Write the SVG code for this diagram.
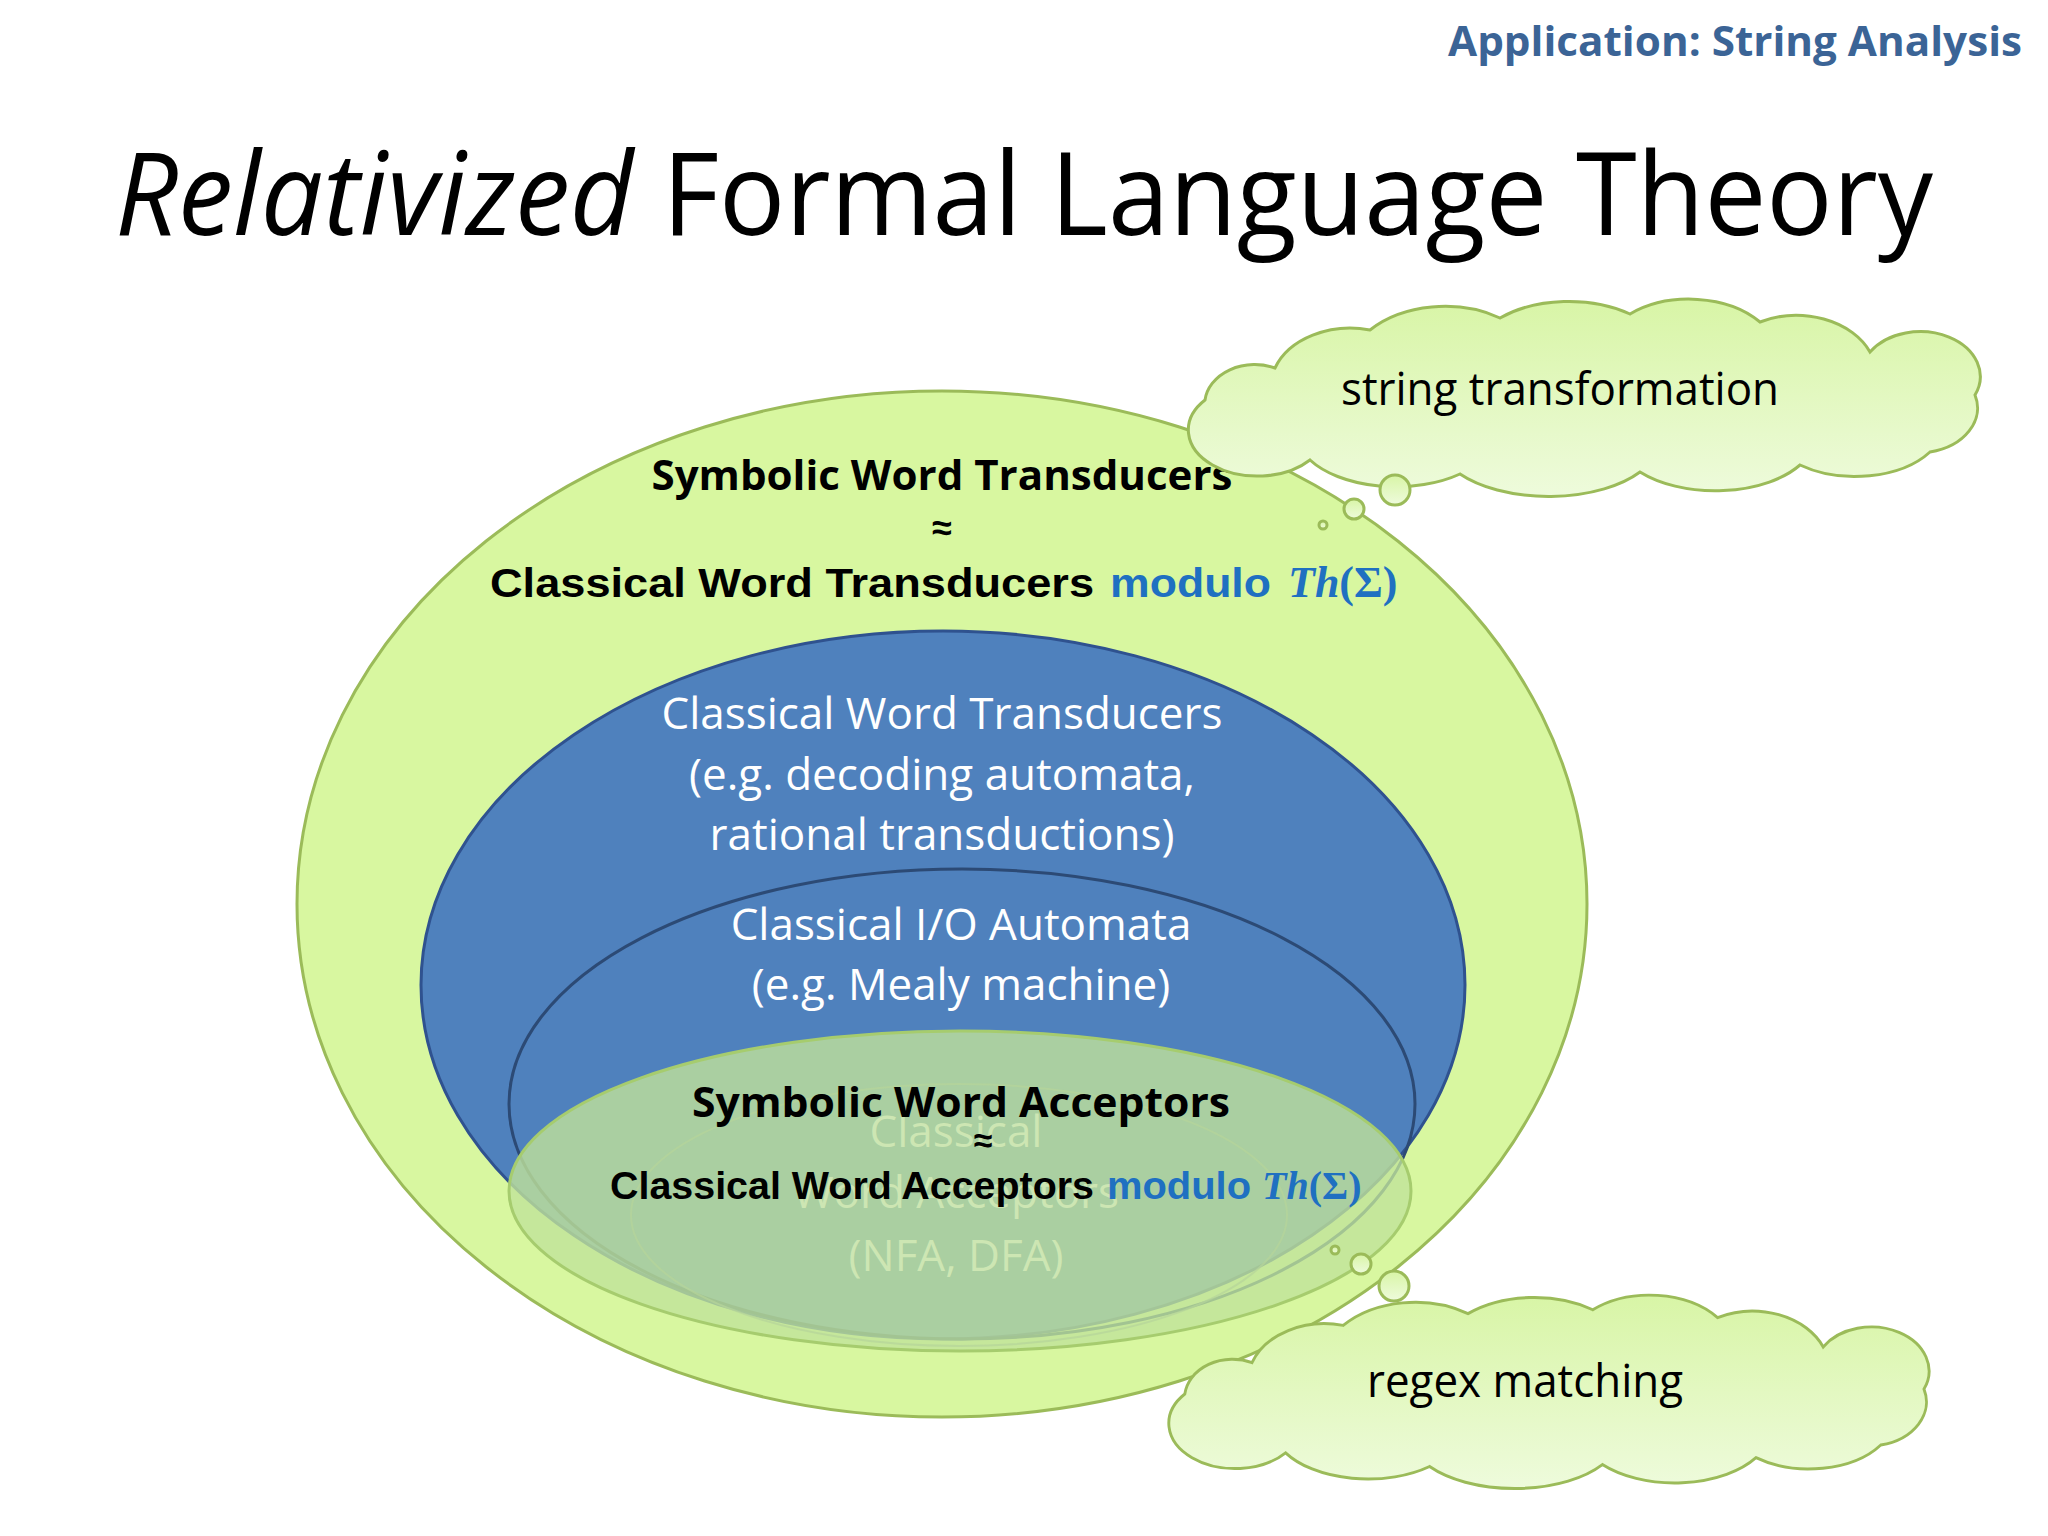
<svg xmlns="http://www.w3.org/2000/svg" xmlns:xlink="http://www.w3.org/1999/xlink" width="2048" height="1536" viewBox="0 0 2048 1536">
<style>
.cal{font-family:"Open Sans","Noto Sans",sans-serif}
.ar{font-family:"Liberation Sans",Arial,sans-serif;font-weight:bold}
.th{font-family:"Liberation Serif","Times New Roman",serif;font-style:italic;font-weight:bold;fill:#1f70c1}
.blue{fill:#1f70c1}
.w{fill:#ffffff;font-size:44px}
.faint{fill:#d6ecb8;font-size:44px;opacity:0.8}
.cloud{fill:url(#cg);stroke:#9bbb59;stroke-width:3}
</style>
<defs>
<linearGradient id="cg" x1="0" y1="0" x2="0" y2="1"><stop offset="0" stop-color="#d8f5a6"/><stop offset="1" stop-color="#eefbdc"/></linearGradient>
<path id="cloud" d="M1205,400 A50,40 0 0 1 1275,368 A80,60 0 0 1 1370,330 A100,70 0 0 1 1500,318 A100,60 0 0 1 1630,314 A90,60 0 0 1 1760,322 A80,60 0 0 1 1870,352 A60,45 0 0 1 1975,395 A60,45 0 0 1 1930,452 A90,55 0 0 1 1800,465 A100,55 0 0 1 1640,472 A110,55 0 0 1 1460,474 A100,55 0 0 1 1310,460 A60,40 0 0 1 1205,400 Z"/>
</defs>
<rect width="2048" height="1536" fill="#ffffff"/>
<text x="2022" y="56" text-anchor="end" font-family="Open Sans,sans-serif" font-weight="bold" font-size="42" fill="#3b6496" textLength="574" lengthAdjust="spacingAndGlyphs">Application: String Analysis</text>
<text x="115" y="235" font-family="Open Sans,sans-serif" font-size="116" fill="#000" textLength="1818" lengthAdjust="spacingAndGlyphs"><tspan font-style="italic">Relativized</tspan> Formal Language Theory</text>

<g id="outer"><ellipse cx="942" cy="904" rx="645" ry="513" fill="#d8f7a0" stroke="#9bbb59" stroke-width="3"/>
<text class="cal" x="942" y="490" text-anchor="middle" font-size="42" font-weight="bold" textLength="581" lengthAdjust="spacingAndGlyphs">Symbolic Word Transducers</text>
<text class="ar" x="942" y="540" text-anchor="middle" font-size="36">≈</text>
<text class="ar" x="490" y="597" font-size="41"><tspan textLength="604" lengthAdjust="spacingAndGlyphs">Classical Word Transducers</tspan><tspan class="blue" x="1110" textLength="161" lengthAdjust="spacingAndGlyphs">modulo</tspan><tspan class="th" x="1288" font-size="44">Th</tspan><tspan class="blue" font-family="Liberation Serif,serif" font-size="44">(Σ)</tspan></text></g>

<g id="blue"><ellipse cx="943" cy="985" rx="522" ry="354" fill="#4f81bd" stroke="#2f528f" stroke-width="3"/>
<text class="cal w" x="942" y="729" text-anchor="middle">Classical Word Transducers</text>
<text class="cal w" x="942" y="790" text-anchor="middle">(e.g. decoding automata,</text>
<text class="cal w" x="942" y="850" text-anchor="middle">rational transductions)</text></g>

<g id="io"><ellipse cx="962" cy="1104" rx="453" ry="235" fill="none" stroke="#2c4a75" stroke-width="3"/>
<text class="cal w" x="961" y="940" text-anchor="middle">Classical I/O Automata</text>
<text class="cal w" x="961" y="1000" text-anchor="middle">(e.g. Mealy machine)</text></g>

<g id="acceptors"><ellipse cx="960" cy="1191" rx="451" ry="160" fill="#c0e29a" fill-opacity="0.8" stroke="#a6cc6e" stroke-width="3"/>
<ellipse cx="959" cy="1215" rx="328" ry="131" fill="none" stroke="#b5d49a" stroke-width="2" opacity="0.7"/>
<text class="cal faint" x="956" y="1147" text-anchor="middle">Classical</text>
<text class="cal faint" x="956" y="1208" text-anchor="middle">Word Acceptors</text>
<text class="cal faint" x="956" y="1271" text-anchor="middle">(NFA, DFA)</text>
<text class="cal" x="961" y="1117" text-anchor="middle" font-size="42" font-weight="bold" textLength="538" lengthAdjust="spacingAndGlyphs">Symbolic Word Acceptors</text>
<text class="ar" x="983" y="1152" text-anchor="middle" font-size="34">≈</text>
<text class="ar" x="610" y="1199" font-size="38"><tspan textLength="484" lengthAdjust="spacingAndGlyphs">Classical Word Acceptors</tspan><tspan class="blue" x="1107" textLength="144" lengthAdjust="spacingAndGlyphs">modulo</tspan><tspan class="th" x="1262" font-size="40">Th</tspan><tspan class="blue" font-family="Liberation Serif,serif" font-size="40">(Σ)</tspan></text></g>

<g id="cloud-top"><use xlink:href="#cloud" class="cloud"/>
<circle cx="1395" cy="490" r="15" class="cloud"/><circle cx="1354" cy="509" r="10" class="cloud"/><circle cx="1323" cy="525" r="4" class="cloud"/>
<text class="cal" x="1560" y="405" text-anchor="middle" font-size="46" textLength="438" lengthAdjust="spacingAndGlyphs">string transformation</text></g>

<g id="cloud-bottom"><use xlink:href="#cloud" class="cloud" transform="translate(28,1002) scale(0.96,0.98)"/>
<circle cx="1394" cy="1286" r="15" class="cloud"/><circle cx="1361" cy="1264" r="10" class="cloud"/><circle cx="1335" cy="1250" r="4" class="cloud"/>
<text class="cal" x="1525" y="1397" text-anchor="middle" font-size="46" textLength="316" lengthAdjust="spacingAndGlyphs">regex matching</text></g>
<g id="connectors"/>
</svg>
